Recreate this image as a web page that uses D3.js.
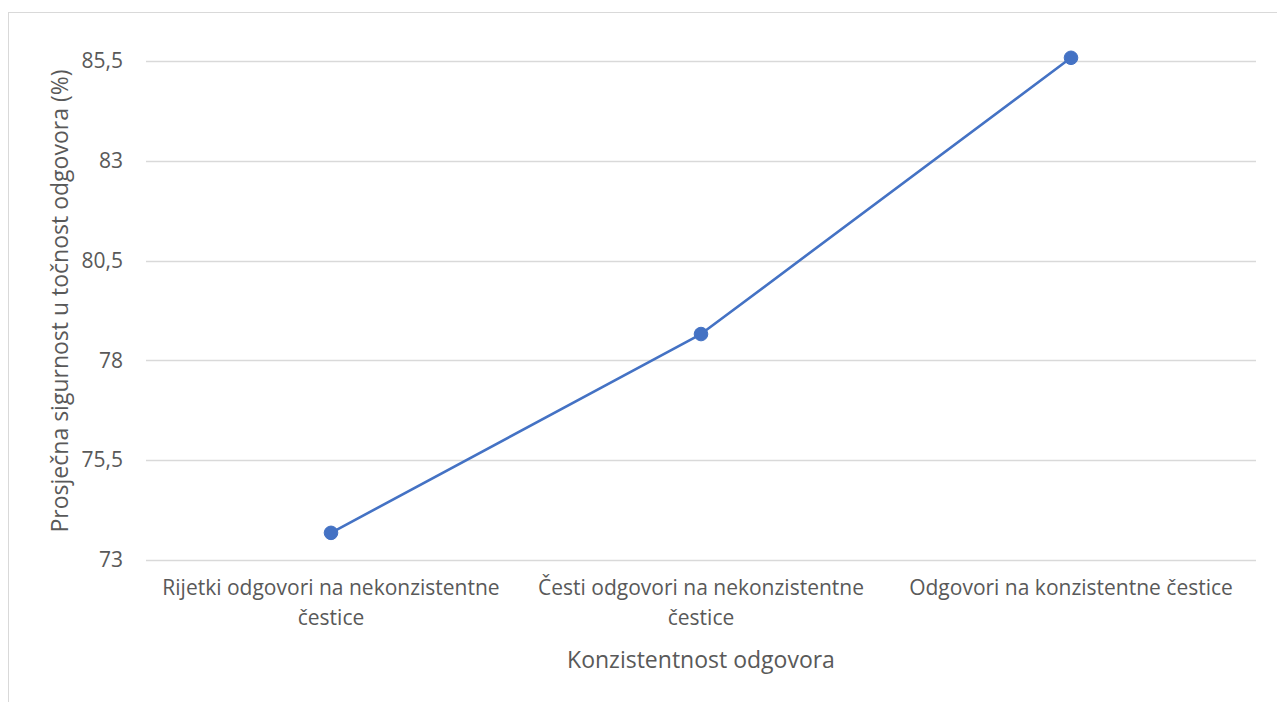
<!DOCTYPE html>
<html>
<head>
<meta charset="utf-8">
<script src="https://cdn.jsdelivr.net/npm/d3@7"></script>
<style>
  html, body { margin: 0; padding: 0; background: #fff; }
  svg { display: block; }
  text { font-family: "Open Sans", sans-serif; fill: #595959; }
</style>
</head>
<body>
<svg id="chart" width="1277" height="702"></svg>
<script>
const categories = [
  "Rijetki odgovori na nekonzistentne čestice",
  "Česti odgovori na nekonzistentne čestice",
  "Odgovori na konzistentne čestice"
];
const values = [73.68, 78.66, 85.58];
const yTicks = [73, 75.5, 78, 80.5, 83, 85.5];
const yTitle = "Prosječna sigurnost u točnost odgovora (%)";
const xTitle = "Konzistentnost odgovora";

const svg = d3.select("#chart");
const plotL = 146, plotR = 1256, plotT = 61, plotB = 560;

// outer chart border
svg.append("rect")
  .attr("x", 8.5).attr("y", 12.5)
  .attr("width", 1300).attr("height", 800)
  .attr("fill", "none").attr("stroke", "#d9d9d9").attr("stroke-width", 1);

const x = d3.scaleBand().domain(categories).range([plotL, plotR]).padding(0);
const y = d3.scaleLinear().domain([73, 85.5]).range([plotB, plotT]);

// gridlines
svg.append("g").selectAll("line").data(yTicks).join("line")
  .attr("x1", plotL).attr("x2", plotR)
  .attr("y1", d => Math.round(y(d)) + 0.5).attr("y2", d => Math.round(y(d)) + 0.5)
  .attr("stroke", "#d9d9d9").attr("stroke-width", 1.3);

// y axis labels
const fmt = d => String(d).replace(".", ",");
const yAxis = svg.append("g").attr("transform", `translate(${plotL},0)`)
  .call(d3.axisLeft(y).tickValues(yTicks).tickFormat(fmt).tickSize(0).tickPadding(23));
yAxis.select(".domain").remove();
yAxis.selectAll("text").style("font-size", "21px").attr("fill", "#595959")
  .style("font-family", "'Open Sans', sans-serif");

// x axis labels
const xAxis = svg.append("g").attr("transform", `translate(0,${plotB})`)
  .call(d3.axisBottom(x).tickSize(0).tickPadding(20));
xAxis.select(".domain").remove();
xAxis.selectAll("text").style("font-size", "21px").attr("fill", "#595959")
  .style("font-family", "'Open Sans', sans-serif")
  .call(wrap, x.bandwidth() - 15);

function wrap(texts, width) {
  texts.each(function() {
    const t = d3.select(this);
    const words = t.text().split(/\s+/);
    const yy = t.attr("y");
    const dy = parseFloat(t.attr("dy")) || 0;
    t.text(null);
    let line = [];
    let lineNo = 0;
    let tspan = t.append("tspan").attr("x", 0).attr("y", yy).attr("dy", dy + "em");
    for (const w of words) {
      line.push(w);
      tspan.text(line.join(" "));
      if (tspan.node().getComputedTextLength() > width && line.length > 1) {
        line.pop();
        tspan.text(line.join(" "));
        line = [w];
        lineNo++;
        tspan = t.append("tspan").attr("x", 0).attr("y", yy)
          .attr("dy", (dy + lineNo * 1.43) + "em").text(w);
      }
    }
  });
}

// line
const line = d3.line().x((d, i) => x(categories[i]) + x.bandwidth() / 2).y(d => y(d));
svg.append("path").datum(values)
  .attr("d", line).attr("fill", "none")
  .attr("stroke", "#4472c4").attr("stroke-width", 2.6).attr("stroke-linejoin", "round");

svg.append("g").selectAll("circle").data(values).join("circle")
  .attr("cx", (d, i) => x(categories[i]) + x.bandwidth() / 2)
  .attr("cy", d => y(d))
  .attr("r", 6.8)
  .attr("fill", "#4472c4").attr("stroke", "#4472c4").attr("stroke-width", 1);

// axis titles
svg.append("text")
  .attr("x", (plotL + plotR) / 2).attr("y", 668)
  .attr("text-anchor", "middle").style("font-size", "23px")
  .text(xTitle);

svg.append("text")
  .attr("transform", `translate(68,301) rotate(-90)`)
  .attr("text-anchor", "middle").style("font-size", "23px")
  .text(yTitle);
</script>
</body>
</html>
